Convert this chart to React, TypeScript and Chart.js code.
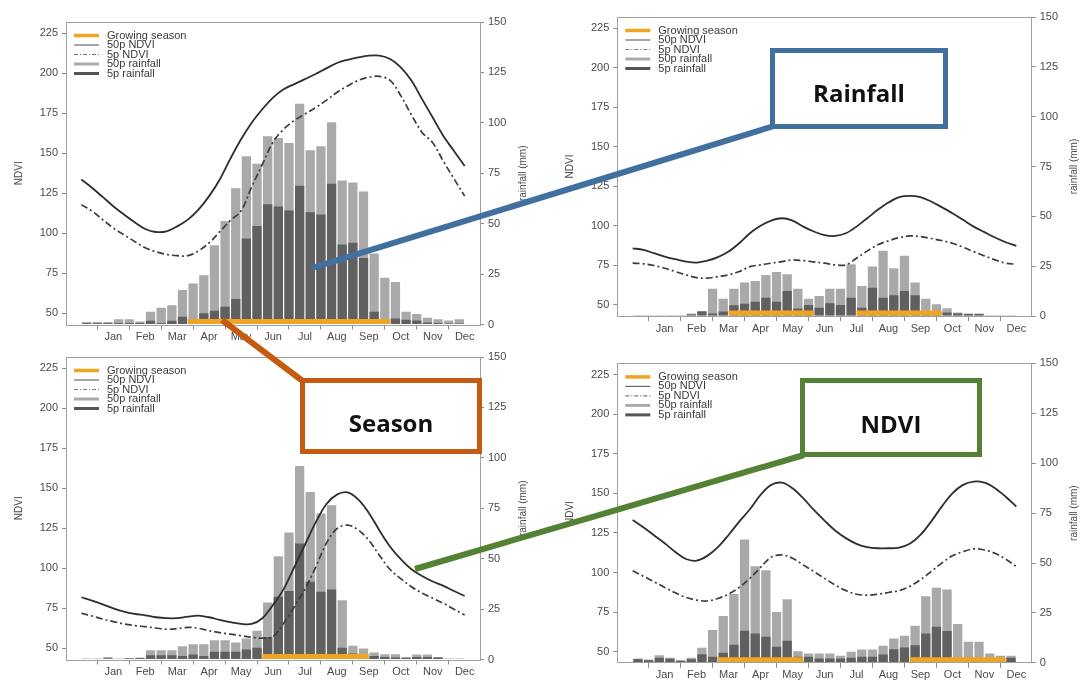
import React, { useEffect, useRef } from 'react';
import { Chart, registerables } from 'chart.js';

Chart.register(...registerables);

// ---------- shared axis text ----------
const monthLabels = ['', 'Jan', 'Feb', 'Mar', 'Apr', 'May', 'Jun', 'Jul', 'Aug', 'Sep', 'Oct', 'Nov', 'Dec'];
const monthTickDekads = [0, 3, 6, 9, 12, 15, 18, 21, 24, 27, 30, 33, 36];
const ndviTicks = [50, 75, 100, 125, 150, 175, 200, 225];
const rainTicks = [0, 25, 50, 75, 100, 125, 150];
const legendLabels = ['Growing season', '50p NDVI', '5p NDVI', '50p rainfall', '5p rainfall'];
const leftTitle = 'NDVI';
const rightTitle = 'rainfall (mm)';
const calloutLabels = ['Rainfall', 'Season', 'NDVI'];

// ---------- panel 1 (top left) ----------
const p1Rain50 = [1.3, 1.3, 1.3, 2.6, 2.6, 1.5, 6.3, 8.3, 9.5, 17.1, 20.3, 24.4, 39.3, 51.3, 67.6, 83.4, 79.7, 93.3, 92.5, 90.0, 109.5, 86.4, 88.4, 100.3, 71.4, 70.4, 65.9, 35.2, 23.2, 21.1, 6.3, 5.2, 3.4, 2.6, 2.0, 2.6];
const p1Rain5 = [0.6, 0.6, 0.6, 0.8, 0.8, 0.8, 1.9, 0.8, 1.9, 3.9, 1.5, 5.6, 6.8, 8.8, 12.6, 42.7, 48.8, 59.6, 58.5, 56.5, 68.8, 55.6, 54.6, 69.8, 39.7, 40.5, 33.0, 6.3, 1.2, 3.0, 2.3, 2.0, 1.0, 0.7, 0.5, 0.5];
const p1Ndvi50 = [133.6, 128.4, 122.7, 116.9, 111.7, 106.9, 102.7, 100.8, 101.2, 104.3, 108.5, 114.8, 123.2, 133.6, 146.6, 158.7, 169.1, 177.5, 184.8, 190, 193.2, 196.3, 199.5, 203, 206.4, 208.4, 209.9, 211, 211, 208.9, 203.7, 195.4, 183.8, 172.3, 160.8, 151.4, 142];
const p1Ndvi5 = [117.9, 113.8, 108.5, 103.3, 99.1, 94.9, 91, 88.5, 86.8, 86, 86, 89, 94, 101, 108, 114, 129, 143, 157, 165, 170.5, 174.5, 178.5, 183, 188, 192, 195.5, 197.5, 198, 195.5, 186, 174, 163, 156.6, 145, 134, 123.2];
const p1Season = [[10, 29]];

// ---------- panel 2 (top right) ----------
const p2Rain50 = [0.2, 0.2, 0.2, 0.2, 0.5, 1.3, 2.5, 13.7, 8.7, 13.7, 16.8, 17.6, 20.6, 22.1, 20.9, 13.7, 8.7, 10, 13.7, 13.7, 26, 15.1, 24.8, 32.7, 24, 30.2, 16.8, 8.7, 5.9, 3.9, 1.7, 1.3, 1.3, 0.5, 0.2, 0.2];
const p2Rain5 = [0.1, 0.1, 0.1, 0.1, 0.3, 0.8, 2.2, 1.3, 2.2, 5.4, 6.2, 7.2, 9.2, 7.2, 12.6, 3.7, 5.5, 4.2, 6.4, 5.5, 9.2, 4.2, 14.2, 9.2, 10.4, 12.6, 10.4, 2.5, 2.0, 1.7, 1.3, 1.0, 1.0, 0.3, 0.1, 0.1];
const p2Ndvi50 = [85.8, 84.8, 82.7, 80.6, 78.9, 77.4, 76.8, 78, 80.2, 83.7, 89, 95.3, 100, 103.3, 104.8, 103.3, 99.5, 96.4, 94.1, 93.6, 95.3, 99.5, 104.8, 110.1, 114.7, 118.1, 118.9, 118.1, 115.4, 111.8, 108, 103.8, 99.5, 96, 92.6, 89.6, 87.3];
const p2Ndvi5 = [76.4, 76, 74.9, 73.2, 71.1, 69, 67.3, 66.9, 67.9, 69, 71.1, 74.2, 75.3, 76.4, 77.4, 78.5, 78, 77.2, 76.4, 75.3, 75.3, 79.5, 84, 88, 90.5, 92.5, 93.6, 93.2, 92, 90.7, 89, 86.5, 83.7, 81, 78.5, 76.4, 75.7];
const p2Season = [[9, 17], [21, 29]];

// ---------- panel 3 (bottom left) ----------
const p3Rain50 = [0.5, 0.5, 1.3, 0.5, 0.8, 1.0, 4.6, 4.6, 4.6, 6.6, 7.6, 7.6, 9.6, 9.6, 8.4, 10.4, 14.2, 28.3, 51.2, 63, 96, 83.1, 72.4, 76.5, 29.4, 6.8, 5.5, 3.5, 2.6, 2.6, 1.3, 2.5, 2.5, 1.3, 0.5, 0.5];
const p3Rain5 = [0.3, 0.3, 0.5, 0.3, 0.5, 0.6, 2.1, 2.1, 2.1, 1.7, 2.5, 1.7, 3.8, 3.8, 3.8, 5.0, 5.8, 11.2, 31.1, 34.0, 57.5, 38.5, 33.6, 34.7, 5.8, 3.0, 2.1, 1.7, 1.3, 1.0, 0.8, 1.3, 1.3, 1.0, 0.3, 0.3];
const p3Ndvi50 = [81.9, 79.8, 77.5, 75, 72.9, 71.5, 70.6, 69.4, 68.8, 68.8, 69.8, 70.4, 69.4, 67.7, 66.3, 65.2, 65.2, 68.8, 77.1, 87, 100.7, 114.7, 128.5, 140, 146, 147.4, 143, 134.6, 123.6, 113.5, 105.7, 99.4, 95.2, 91.7, 89, 85.8, 82.7];
const p3Ndvi5 = [71.9, 70.2, 68.3, 66.7, 65.2, 64.2, 63.5, 62.7, 61.9, 62.3, 63.1, 62.5, 61, 59.8, 58.8, 57.9, 56.9, 56.3, 57.3, 65.6, 76, 87, 100.5, 115.5, 124.7, 127, 124, 117.5, 108, 99.2, 93.5, 88.5, 84.4, 81.3, 78.1, 74.4, 70.8];
const p3Season = [[17, 27]];

// ---------- panel 4 (bottom right) ----------
const p4Rain50 = [2.2, 1.7, 3.8, 2.5, 1.3, 2.5, 7.5, 16.4, 23.4, 34.5, 61.8, 48.4, 46.4, 25.4, 31.9, 5.8, 4.7, 4.7, 4.7, 3.5, 5.5, 6.7, 6.7, 8.5, 12.2, 13.5, 18.5, 33.4, 37.6, 36.7, 19.4, 10.5, 10.5, 4.7, 3.5, 3.5];
const p4Rain5 = [1.8, 1.3, 2.5, 2.0, 1.0, 1.8, 4.3, 3.0, 5.0, 9.0, 16.0, 14.7, 13.0, 8.0, 11.0, 3.0, 3.0, 2.2, 2.2, 2.2, 2.5, 3.0, 3.0, 4.2, 6.8, 7.7, 8.8, 14.7, 18.0, 15.9, 2.2, 1.8, 1.8, 1.5, 1.5, 2.5];
const p4Ndvi50 = [133.1, 128.5, 123.5, 118.5, 113, 108.5, 107.5, 110.5, 116, 123.7, 132.1, 139.9, 149, 155.3, 156.7, 153.2, 146.9, 139.5, 132.8, 126.5, 121.7, 118.1, 116, 115.3, 115.3, 115.7, 118.1, 123.7, 132.1, 141.6, 150, 155.3, 157.4, 156.7, 153.2, 147.8, 141.6];
const p4Ndvi5 = [101.1, 97.7, 94.2, 90.6, 87.2, 84.3, 82.6, 82, 83.6, 86.4, 90.6, 96.3, 103.2, 109.6, 111.1, 109, 104.8, 100.6, 96.3, 92.1, 88.6, 86.3, 85.7, 86.3, 87.4, 88.6, 91.2, 95.4, 100.6, 105.9, 110.5, 113.2, 114.9, 114.2, 112.1, 108.4, 103.8];
const p4Season = [[8, 16], [26, 35]];

const SEASON_LEVEL = 1.5; // mm, where the growing-season bar sits

// ---------- styles ----------
const ORANGE = '#EFA523';
const LIGHT = '#a9a9a9';
const DARK = '#606060';
const LINE50 = '#2e2e2e';
const LINE5 = '#3c3c3c';
const AXIS = '#8a8a8a';
const TEXT = '#4a4a4a';
const FONT = '"Liberation Sans", Arial, Helvetica, sans-serif';
const BLUE = '#41709F';
const RUST = '#C55A11';
const GREEN = '#548235';

type Frame = { x: number; y: number; w: number; h: number; L: number; R: number; T: number; B: number };
type PanelDef = {
  rain50: number[];
  rain5: number[];
  ndvi50: number[];
  ndvi5: number[];
  seasons: number[][];
  frame: Frame;
};

const panels: PanelDef[] = [
  { rain50: p1Rain50, rain5: p1Rain5, ndvi50: p1Ndvi50, ndvi5: p1Ndvi5, seasons: p1Season,
    frame: { x: 0, y: 0, w: 540, h: 345, L: 66, R: 60, T: 22, B: 20.5 } },
  { rain50: p2Rain50, rain5: p2Rain5, ndvi50: p2Ndvi50, ndvi5: p2Ndvi5, seasons: p2Season,
    frame: { x: 540, y: 0, w: 540, h: 345, L: 77.3, R: 48.3, T: 17, B: 29 } },
  { rain50: p3Rain50, rain5: p3Rain5, ndvi50: p3Ndvi50, ndvi5: p3Ndvi5, seasons: p3Season,
    frame: { x: 0, y: 340, w: 540, h: 341, L: 66, R: 60, T: 17, B: 21.5 } },
  { rain50: p4Rain50, rain5: p4Rain5, ndvi50: p4Ndvi50, ndvi5: p4Ndvi5, seasons: p4Season,
    frame: { x: 540, y: 340, w: 540, h: 341, L: 77.3, R: 48.3, T: 23.4, B: 18.2 } },
];

const legendStyles = [
  { c: ORANGE, w: 3.5, d: [] as number[] },
  { c: '#6a6a6a', w: 1.2, d: [] as number[] },
  { c: '#7a7a7a', w: 1.2, d: [4, 2, 1, 2] },
  { c: '#aaaaaa', w: 3, d: [] as number[] },
  { c: '#555555', w: 3, d: [] as number[] },
];

const decorPlugin = {
  id: 'decor',
  afterDatasetsDraw(chart: any) {
    const { ctx, chartArea: a } = chart;
    ctx.save();
    // plot frame
    ctx.strokeStyle = '#a0a0a0';
    ctx.lineWidth = 1;
    ctx.setLineDash([]);
    ctx.strokeRect(Math.round(a.left) + 0.5, Math.round(a.top) + 0.5, Math.round(a.right - a.left), Math.round(a.bottom - a.top));
    // legend
    ctx.font = `11px ${FONT}`;
    ctx.textBaseline = 'middle';
    ctx.textAlign = 'left';
    legendLabels.forEach((lab, i) => {
      const y = a.top + 13.5 + i * 9.5;
      const s = legendStyles[i];
      ctx.beginPath();
      ctx.strokeStyle = s.c;
      ctx.lineWidth = s.w;
      ctx.setLineDash(s.d);
      ctx.moveTo(a.left + 8, y);
      ctx.lineTo(a.left + 33, y);
      ctx.stroke();
      ctx.setLineDash([]);
      ctx.fillStyle = '#3a3a3a';
      ctx.fillText(lab, a.left + 41, y);
    });
    // axis titles (both read bottom-to-top)
    ctx.font = `10px ${FONT}`;
    ctx.fillStyle = TEXT;
    ctx.textAlign = 'center';
    const midY = (a.top + a.bottom) / 2;
    ctx.save();
    ctx.translate(a.left - 47, midY);
    ctx.rotate(-Math.PI / 2);
    ctx.fillText(leftTitle, 0, 0);
    ctx.restore();
    ctx.save();
    ctx.translate(a.right + 43, midY);
    ctx.rotate(-Math.PI / 2);
    ctx.fillText(rightTitle, 0, 0);
    ctx.restore();
    ctx.restore();
  },
};

function buildConfig(p: PanelDef): any {
  const f = p.frame;
  const seasonSets = p.seasons.map((s) => ({
    type: 'line',
    data: [{ x: s[0], y: SEASON_LEVEL }, { x: s[1], y: SEASON_LEVEL }],
    yAxisID: 'y2',
    borderColor: ORANGE,
    borderWidth: 5,
    pointRadius: 0,
    order: 0,
  }));
  const tickFont = { family: FONT, size: 11 };
  return {
    type: 'bar',
    data: {
      datasets: [
        ...seasonSets,
        {
          type: 'line', label: '50p NDVI', yAxisID: 'y',
          data: p.ndvi50.map((v, k) => ({ x: k, y: v })),
          borderColor: LINE50, borderWidth: 1.8, pointRadius: 0, tension: 0.35, order: 1,
        },
        {
          type: 'line', label: '5p NDVI', yAxisID: 'y',
          data: p.ndvi5.map((v, k) => ({ x: k, y: v })),
          borderColor: LINE5, borderWidth: 1.7, borderDash: [7, 3, 2, 3], pointRadius: 0, tension: 0.35, order: 2,
        },
        {
          type: 'bar', label: '5p rainfall', yAxisID: 'y2',
          data: p.rain5.map((v, i) => ({ x: i + 0.5, y: v })),
          backgroundColor: DARK, grouped: false, barPercentage: 0.87, categoryPercentage: 1, order: 3,
        },
        {
          type: 'bar', label: '50p rainfall', yAxisID: 'y2',
          data: p.rain50.map((v, i) => ({ x: i + 0.5, y: v })),
          backgroundColor: LIGHT, grouped: false, barPercentage: 0.87, categoryPercentage: 1, order: 4,
        },
      ],
    },
    options: {
      animation: false,
      responsive: false,
      devicePixelRatio: 1,
      layout: { padding: { top: f.T, left: 0, right: 0, bottom: 0 } },
      plugins: { legend: { display: false }, tooltip: { enabled: false } },
      events: [],
      scales: {
        x: {
          type: 'linear', min: -1.44, max: 37.44, bounds: 'data', offset: false,
          afterBuildTicks: (s: any) => { s.ticks = monthTickDekads.map((v) => ({ value: v })); },
          afterFit: (s: any) => { s.height = f.B; },
          ticks: {
            autoSkip: false, maxRotation: 0, minRotation: 0, padding: 1,
            font: tickFont, color: TEXT,
            callback: (v: number) => monthLabels[Math.round(v / 3)],
          },
          grid: { display: true, drawOnChartArea: false, drawTicks: true, tickLength: 5, color: AXIS },
          border: { display: false },
        },
        y: {
          type: 'linear', position: 'left', min: 43, max: 232, bounds: 'data',
          afterBuildTicks: (s: any) => { s.ticks = ndviTicks.map((v) => ({ value: v })); },
          afterFit: (s: any) => { s.width = f.L; },
          ticks: { font: tickFont, color: TEXT, padding: 4 },
          grid: { display: true, drawOnChartArea: false, drawTicks: true, tickLength: 4, color: AXIS },
          border: { display: false },
        },
        y2: {
          type: 'linear', position: 'right', min: 0, max: 150, bounds: 'data',
          afterBuildTicks: (s: any) => { s.ticks = rainTicks.map((v) => ({ value: v })); },
          afterFit: (s: any) => { s.width = f.R; },
          ticks: { font: tickFont, color: TEXT, padding: 4 },
          grid: { display: true, drawOnChartArea: false, drawTicks: true, tickLength: 4, color: AXIS },
          border: { display: false },
        },
      },
    },
    plugins: [decorPlugin],
  };
}

function Panel({ def }: { def: PanelDef }) {
  const ref = useRef<HTMLCanvasElement>(null);
  useEffect(() => {
    const chart = new Chart(ref.current as HTMLCanvasElement, buildConfig(def));
    return () => chart.destroy();
  }, [def]);
  const f = def.frame;
  return (
    <canvas
      ref={ref}
      width={f.w}
      height={f.h}
      style={{ position: 'absolute', left: f.x, top: f.y, width: f.w, height: f.h }}
    />
  );
}

export default function App() {
  const boxFont = '"Open Sans", "Noto Sans", Calibri, sans-serif';
  return (
    <div style={{ position: 'absolute', left: 0, top: 0, width: 1080, height: 681, background: '#ffffff', overflow: 'hidden' }}>
      {panels.map((p, i) => (
        <Panel key={i} def={p} />
      ))}
      <svg width={1080} height={681} style={{ position: 'absolute', left: 0, top: 0 }}>
        <line x1={312} y1={268} x2={774} y2={126} stroke={BLUE} strokeWidth={6} />
        <line x1={222} y1={320} x2={304} y2={382} stroke={RUST} strokeWidth={6} />
        <line x1={415} y1={569} x2={804} y2={455} stroke={GREEN} strokeWidth={6} />
        <rect x={772.5} y={50.5} width={173} height={76} fill="#ffffff" stroke={BLUE} strokeWidth={5} />
        <rect x={302.5} y={380.5} width={177} height={71} fill="#ffffff" stroke={RUST} strokeWidth={5} />
        <rect x={802.5} y={380.5} width={177} height={74} fill="#ffffff" stroke={GREEN} strokeWidth={5} />
        <text x={859} y={102} textAnchor="middle" fontFamily={boxFont} fontWeight={700} fontSize={24} fill="#111111">{calloutLabels[0]}</text>
        <text x={391} y={432} textAnchor="middle" fontFamily={boxFont} fontWeight={700} fontSize={24} fill="#111111">{calloutLabels[1]}</text>
        <text x={891} y={433} textAnchor="middle" fontFamily={boxFont} fontWeight={700} fontSize={24} fill="#111111">{calloutLabels[2]}</text>
      </svg>
    </div>
  );
}
